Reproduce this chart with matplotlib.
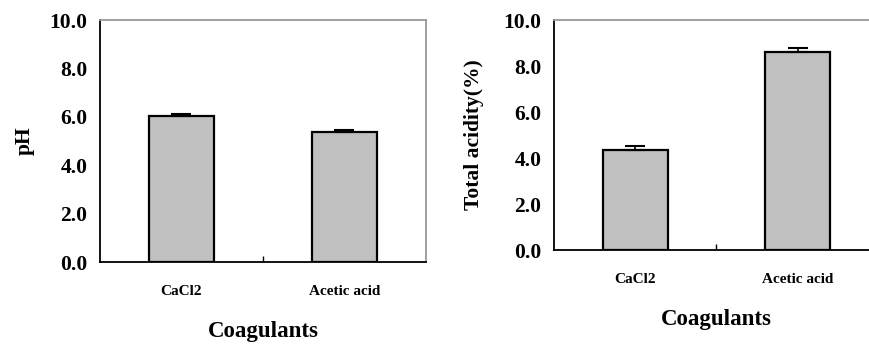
import matplotlib
matplotlib.use("Agg")
import matplotlib.pyplot as plt

categories = ["CaCl2", "Acetic acid"]
ph_values = [6.02, 5.38]
ph_err = [0.08, 0.07]
acid_values = [4.35, 8.6]
acid_err = [0.17, 0.18]
yticks = [0, 2, 4, 6, 8, 10]
ytick_labels = ["0.0", "2.0", "4.0", "6.0", "8.0", "10.0"]

plt.rcParams["font.family"] = ["Liberation Serif", "DejaVu Serif"]
plt.rcParams["font.weight"] = "bold"

W, H = 870, 345
fig = plt.figure(figsize=(W / 100, H / 100), dpi=100)


def make_ax(left, right, top, bottom):
    return fig.add_axes([left / W, 1 - bottom / H, (right - left) / W, (bottom - top) / H])


panels = [
    # axes px box, values, errs, ylabel, ylabel x, cat baseline y, xlabel baseline y, xlabel center x
    ((100, 426, 20, 262), ph_values, ph_err, "pH", 25, 295, 337, 263),
    ((554, 879, 20, 250), acid_values, acid_err, "Total acidity(%)", 474, 283, 325, 716),
]

for box, vals, errs, ylab, ylab_x, cat_y, xlab_y, xlab_cx in panels:
    ax = make_ax(*box)
    x = list(range(len(categories)))
    ax.bar(x, vals, width=0.4, color="#c0c0c0", edgecolor="black", linewidth=1.6, zorder=2)
    ax.errorbar(x, vals, yerr=[[0] * len(errs), errs], fmt="none", ecolor="black",
                elinewidth=1.2, capsize=7.5, capthick=1.5, zorder=3)
    ax.set_xlim(-0.5, 1.5)
    ax.set_ylim(0, 10)
    ax.set_yticks(yticks)
    ax.set_yticklabels(ytick_labels, fontsize=15.5, fontweight="bold")
    ax.tick_params(axis="y", length=0, pad=9)
    ax.set_xticks([0.5])
    ax.set_xticklabels([""])
    ax.tick_params(axis="x", direction="in", length=4, width=1)
    for s in ["left", "bottom"]:
        ax.spines[s].set_color("black")
        ax.spines[s].set_linewidth(1.3)
    for s in ["top", "right"]:
        ax.spines[s].set_color("#999999")
        ax.spines[s].set_linewidth(1.3)
    for xi, c in zip(x, categories):
        xf = ax.transData.transform((xi, 0))[0] / W
        fig.text(xf, 1 - cat_y / H, c, fontsize=11, fontweight="bold",
                 ha="center", va="baseline")
    fig.text(xlab_cx / W, 1 - xlab_y / H, "Coagulants", fontsize=16.5, fontweight="bold",
             ha="center", va="baseline")
    left, right, top, bottom = box
    fig.text(ylab_x / W, 1 - ((top + bottom) / 2) / H, ylab, fontsize=15.5, fontweight="bold",
             rotation=90, ha="center", va="center")

fig.savefig("out.png", dpi=100)
